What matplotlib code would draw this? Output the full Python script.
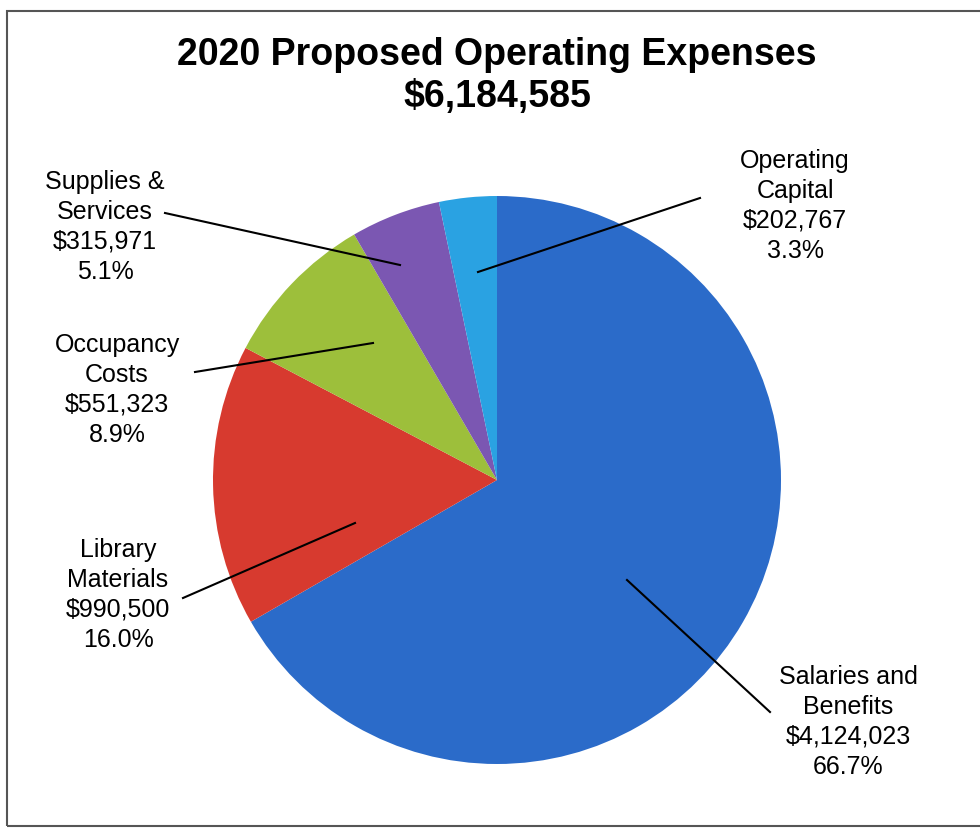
import matplotlib.pyplot as plt
from matplotlib.patches import Rectangle

# values
categories = ["Salaries and\nBenefits", "Library\nMaterials", "Occupancy\nCosts",
              "Supplies &\nServices", "Operating\nCapital"]
amounts = [4124023, 990500, 551323, 315971, 202767]
percents = ["66.7%", "16.0%", "8.9%", "5.1%", "3.3%"]
colors = ["#2b6bc9", "#d73a2f", "#9dbf3b", "#7b57b2", "#2aa2e2"]
total = 6184585

plt.rcParams['font.family'] = ['Liberation Sans', 'DejaVu Sans']

fig = plt.figure(figsize=(9.8, 8.34), dpi=100)
ax = fig.add_axes([0, 0, 1, 1])

H = 834
cx, cy, r = 497, H - 480, 284

wedges, _ = ax.pie(amounts, colors=colors, startangle=90, counterclock=False,
                   center=(cx, cy), radius=r, frame=True)
ax.set_xlim(0, 980)
ax.set_ylim(0, H)
ax.set_aspect('equal')
ax.axis('off')

# frame of the scanned chart
ax.add_patch(Rectangle((7, H - 826), 1000, 815, fill=False, edgecolor="#555555",
                       linewidth=1.5, clip_on=False))

ax.text(497, H - 55, "2020 Proposed Operating Expenses", ha="center", va="center",
        fontsize=27, fontweight="bold")
ax.text(497, H - 97, "${:,}".format(total), ha="center", va="center",
        fontsize=27, fontweight="bold")

# label text position, leader line start, leader line end (pixel coords, y from top)
label_pos = [(848, 722), (118, 595), (117, 390), (105, 227), (795, 206)]
line_start = [(770, 712), (183, 598), (195, 372), (165, 213), (700, 198)]
line_end = [(627, 580), (355, 523), (373, 343), (400, 265), (478, 272)]

for i in range(len(categories)):
    txt = categories[i] + "\n${:,}".format(amounts[i]) + "\n" + percents[i]
    ax.text(label_pos[i][0], H - label_pos[i][1], txt, ha="center", va="center",
            fontsize=18, linespacing=1.3)
    ax.plot([line_start[i][0], line_end[i][0]], [H - line_start[i][1], H - line_end[i][1]],
            color="black", linewidth=1.5)

fig.savefig("out.png", dpi=100)
